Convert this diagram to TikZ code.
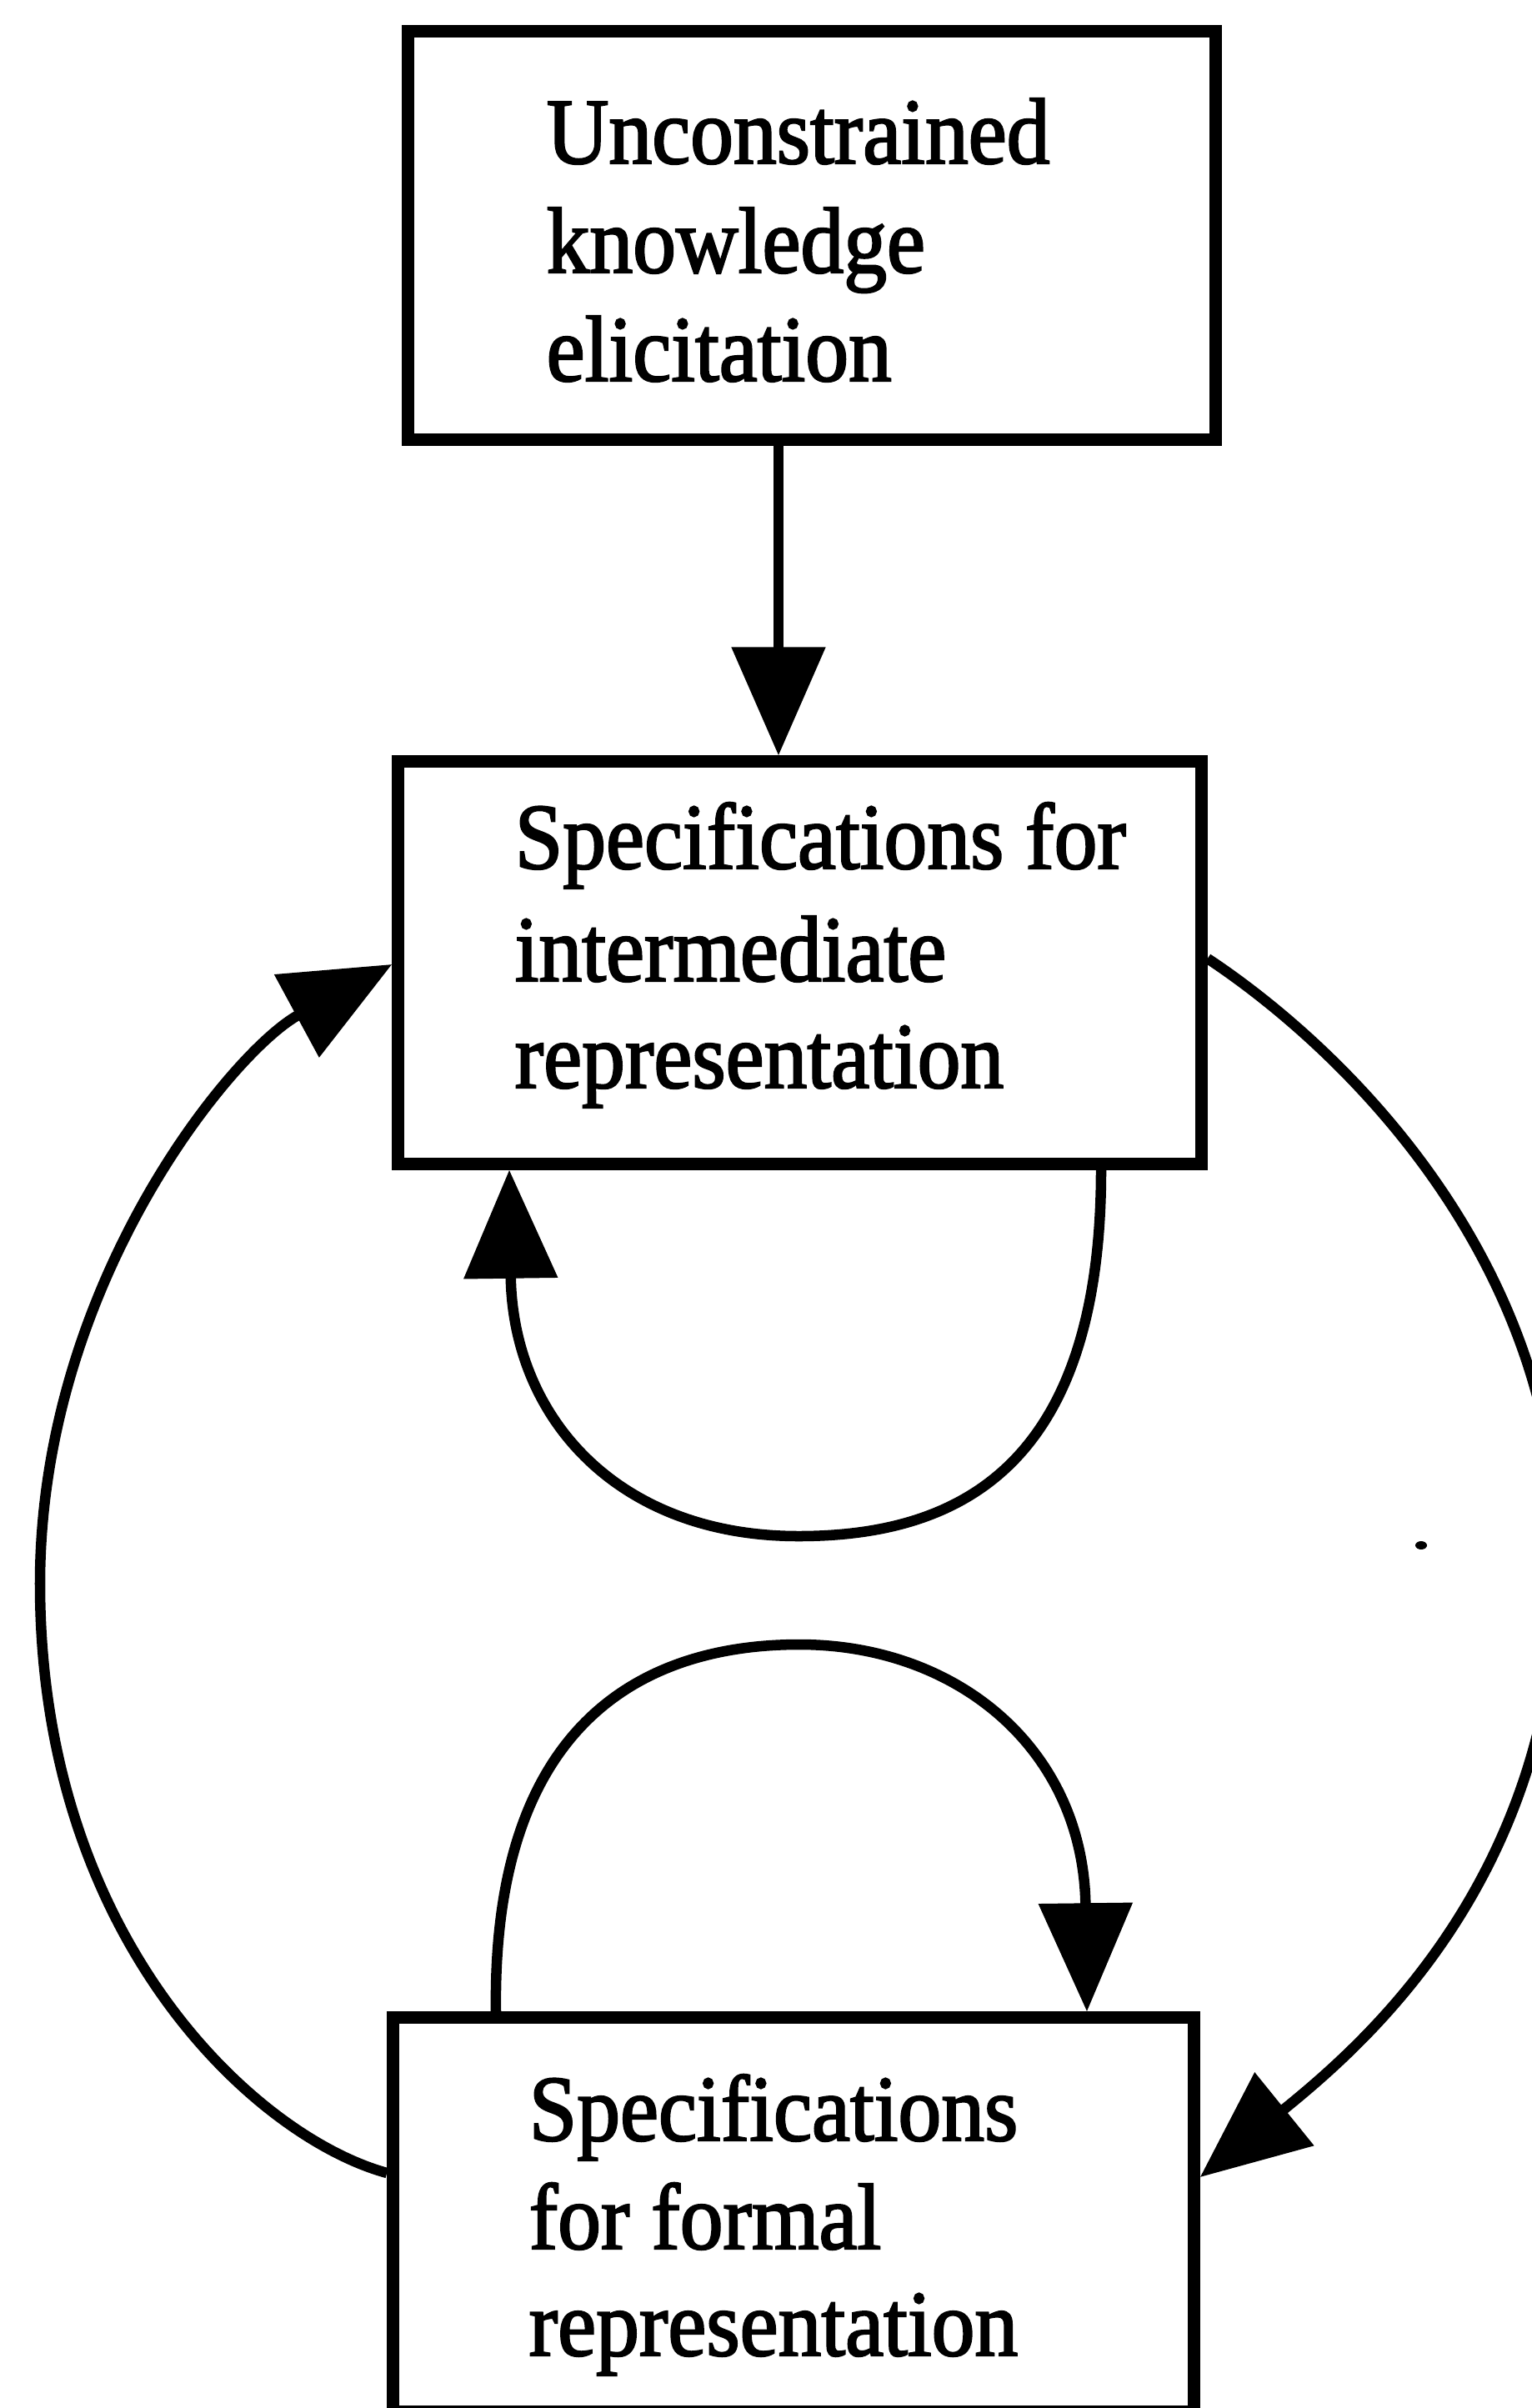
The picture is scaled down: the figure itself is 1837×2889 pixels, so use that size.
\documentclass[tikz,border=0pt]{standalone}
\usepackage{fontspec}
\setmainfont{Liberation Serif}[FakeStretch=0.92, FakeBold=2]
\usetikzlibrary{arrows.meta}
\begin{document}
\begin{tikzpicture}[x=0.01cm, y=-0.01cm,
  stage/.style={draw, line width=1.5mm, inner sep=0pt},
  caption/.style={anchor=base west, inner sep=0pt, font=\fontsize{32}{38}\selectfont},
  flow/.style={line width=1.25mm, -{Triangle[length=13mm, width=11mm]}}]
  \useasboundingbox (0,0) rectangle (1837,2889);

  % the three stages
  \node[stage, minimum width=9.68cm, minimum height=4.89cm] (elicit) at (974,282.5) {};
  \node[stage, minimum width=9.63cm, minimum height=4.82cm] (inter) at (959.5,1155) {};
  \node[stage, minimum width=9.60cm, minimum height=4.72cm] (formal) at (952,2657) {};

  % stage texts, one line each
  \node[caption] (e1) at (655,196) {Unconstrained};
  \node[caption] (e2) at (655,327) {knowledge};
  \node[caption] (e3) at (655,457) {elicitation};
  \node[caption] (i1) at (617,1042) {Specifications for};
  \node[caption] (i2) at (617,1177) {intermediate};
  \node[caption] (i3) at (617,1305) {representation};
  \node[caption] (f1) at (634,2568) {Specifications};
  \node[caption] (f2) at (634,2698) {for formal};
  \node[caption] (f3) at (634,2826) {representation};

  % elicitation feeds the intermediate specification
  \draw[flow] (934,0 |- elicit.south) -- (934,0 |- inter.north);

  % refinement loop of the intermediate specification
  \draw[flow] (1321,0 |- inter.south)
    .. controls (1321,1760) and (1150,1843) .. (958,1843)
    .. controls (740,1843) and (615,1700) .. (611,0 |- inter.south);

  % refinement loop of the formal specification
  \draw[flow] (595,0 |- formal.north)
    .. controls (590,2050) and (790,1973) .. (959,1973)
    .. controls (1150,1973) and (1300,2100) .. (1304,0 |- formal.north);

  % formal back to intermediate
  \draw[flow] (formal.west |- 0,2607)
    .. controls (310,2565) and (48,2330) .. (48,1900)
    .. controls (48,1540) and (280,1260) .. (inter.west |- 0,1157);

  % intermediate on to formal
  \draw[flow] (inter.east |- 0,1150)
    .. controls (1600,1250) and (1870,1500) .. (1870,1870)
    .. controls (1870,2250) and (1640,2450) .. (formal.east |- 0,2612);

  % small speck
  \fill (1705,1854) ellipse [x radius=7, y radius=5];
\end{tikzpicture}
\end{document}
